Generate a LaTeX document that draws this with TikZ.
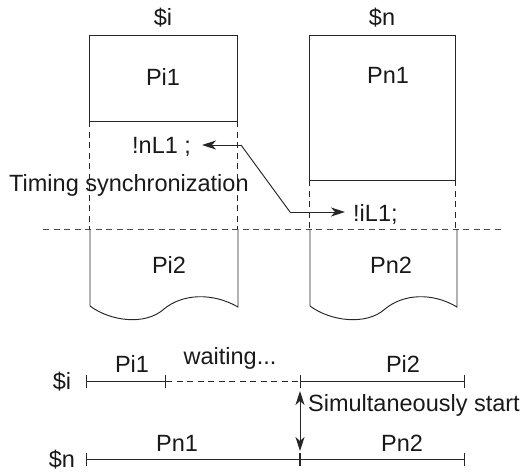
\documentclass[tikz,border=0pt]{standalone}
\usepackage{fontspec}
\setmainfont{Liberation Sans}
\usetikzlibrary{arrows.meta}
\begin{document}
\begin{tikzpicture}[x=1pt,y=-1pt,
  txt/.style={font=\fontsize{23.5}{28}\selectfont, inner sep=0pt, text=black!90},
  ln/.style={line width=0.95pt, draw=black!85},
  dsh/.style={ln, dash pattern=on 6pt off 4.5pt},
  arr/.style={ln, -{Stealth[length=14pt,width=9pt,inset=4pt]}},
  dbl/.style={ln, {Stealth[length=14pt,width=9pt,inset=4pt]}-{Stealth[length=14pt,width=9pt,inset=4pt]}},
  seg/.style={ln, {Bar[width=13pt]}-{Bar[width=13pt]}}
]
\useasboundingbox (0,0) rectangle (529,471);

% headers
\node[txt, anchor=base] (hi) at (163,25) {\$i};
\node[txt, anchor=base] (hn) at (382,25) {\$n};

% top boxes
\draw[ln] (89,35) rectangle (237,121);
\draw[ln] (309,35) rectangle (455,180);
\node[txt, anchor=base] (pi1) at (163,85) {Pi1};
\node[txt, anchor=base] (pn1) at (388,83) {Pn1};

% dashed verticals
\draw[dsh] (89,121) -- (89,229);
\draw[dsh] (237,121) -- (237,229);
\draw[dsh] (309,180) -- (309,229);
\draw[dsh] (455,180) -- (455,229);

% horizontal dashed line
\draw[dsh, draw=black!70] (43,229) -- (505,229);

% sync texts
\node[txt, anchor=base west] (nl1) at (132,153) {!nL1 ;};
\node[txt, anchor=base west] (il1) at (353,221) {!iL1;};
\node[txt, anchor=base west] (sync) at (9,191) {Timing synchronization};

\coordinate (ba) at (241,145);
\coordinate (bb) at (290,212);
\coordinate (na) at (202,145);
\coordinate (nb) at (345,212);
\draw[arr] (ba) -- (na);
\draw[ln] (ba) -- (bb);
\draw[arr] (bb) -- (nb);

% tape shapes
\draw[ln] (90,229) -- (90,306)
  .. controls (110,321) and (145,326) .. (164,309)
  .. controls (182,294) and (212,292) .. (238,307) -- (238,229);
\draw[ln] (310,229) -- (310,306)
  .. controls (330,321) and (366,326) .. (385,309)
  .. controls (403,294) and (432,292) .. (457,307) -- (457,229);
\node[txt, anchor=base] (pi2) at (169,273) {Pi2};
\node[txt, anchor=base] (pn2) at (391,273) {Pn2};

% timeline
\coordinate (ti0) at (86,381);
\coordinate (ti1) at (166,381);
\coordinate (ti2) at (300,381);
\coordinate (ti3) at (465,381);
\coordinate (tn0) at (86,459);
\coordinate (tn2) at (300,459);
\coordinate (tn3) at (465,459);

\draw[seg] (ti0) -- (ti1);
\draw[dsh] (ti1) -- (ti2);
\draw[seg] (ti2) -- (ti3);
\draw[seg] (tn0) -- (tn2);
\draw[seg] (tn2) -- (tn3);

\node[txt, anchor=base] (li) at (62,389) {\$i};
\node[txt, anchor=base] (ln) at (62,467) {\$n};
\node[txt, anchor=base] (ti1l) at (132,372) {Pi1};
\node[txt, anchor=base] (wait) at (230,364) {waiting...};
\node[txt, anchor=base] (ti2l) at (403,372) {Pi2};
\node[txt, anchor=base] (tn1l) at (177,451) {Pn1};
\node[txt, anchor=base] (tn2l) at (402,451) {Pn2};

\coordinate (sa) at (300,391);
\coordinate (sb) at (300,451);
\draw[dbl] (sa) -- (sb);
\node[txt, anchor=base west] (simul) at (308,411) {Simultaneously start};
\end{tikzpicture}
\end{document}
